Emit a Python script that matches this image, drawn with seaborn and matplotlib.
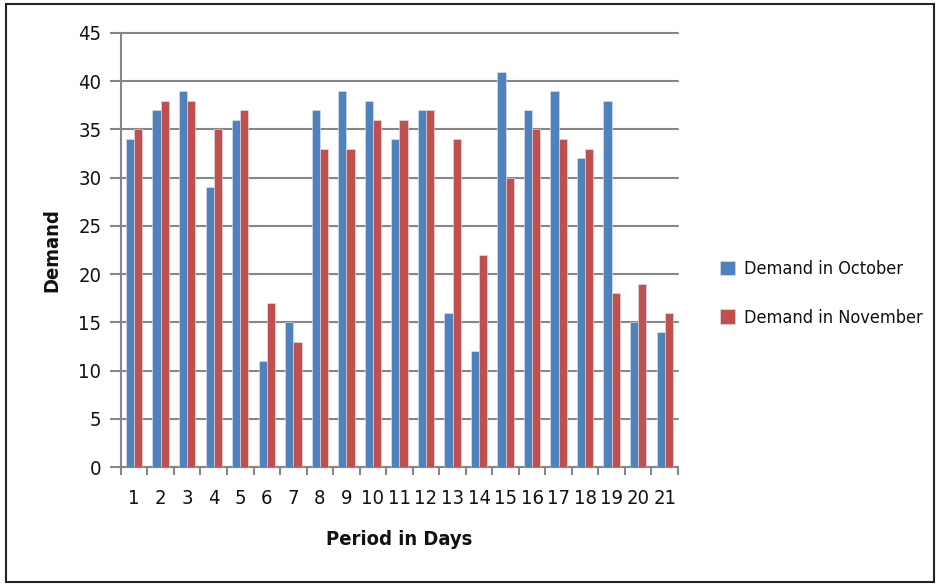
import matplotlib
matplotlib.use("Agg")
import matplotlib.pyplot as plt
import seaborn as sns
import pandas as pd
import numpy as np
from matplotlib.patches import Rectangle

days = [str(i) for i in range(1, 22)]
october = [34, 37, 39, 29, 36, 11, 15, 37, 39, 38, 34, 37, 16, 12, 41, 37, 39, 32, 38, 15, 14]
november = [35, 38, 38, 35, 37, 17, 13, 33, 33, 36, 36, 37, 34, 22, 30, 35, 34, 33, 18, 19, 16]
series_names = ["Demand in October", "Demand in November"]
colors = ["#4F81BD", "#C0504D"]

df = pd.DataFrame({
    "Day": days * 2,
    "Demand": october + november,
    "Series": [series_names[0]] * len(days) + [series_names[1]] * len(days),
})

sns.set_theme(style="white")
plt.rcParams['font.family'] = ['DejaVu Sans']
plt.rcParams['font.stretch'] = 'condensed'

fig = plt.figure(figsize=(9.37, 5.84), dpi=100)
ax = fig.add_axes([0.129, 0.2003, 0.5946, 0.7432])

sns.barplot(data=df, x="Day", y="Demand", hue="Series", palette=colors,
            saturation=1, width=0.62, ax=ax, edgecolor="#dfe6f0", linewidth=0.4,
            zorder=3, legend=True)

ax.set_ylim(0, 45)
ax.set_xlim(-0.5, 20.5)
ax.set_yticks(range(0, 46, 5))
ax.yaxis.grid(True, color="#868686", linewidth=1.5, zorder=0)
for gl in ax.get_ygridlines():
    gl.set_clip_on(False)
ax.set_axisbelow(True)
for s in ["top", "right"]:
    ax.spines[s].set_visible(False)
for s in ["left", "bottom"]:
    ax.spines[s].set_color("#868686")
    ax.spines[s].set_linewidth(1.5)

ax.tick_params(axis="y", which="major", length=8, width=1.5, color="#868686",
               labelsize=14.5, pad=6, left=True, labelcolor="#111111")
ax.tick_params(axis="x", which="major", length=0, labelsize=14.5, pad=16,
               labelcolor="#111111")
ax.set_xticks(np.arange(-0.5, 21, 1), minor=True)
ax.tick_params(axis="x", which="minor", length=6, width=1.5, color="#868686", bottom=True)

ax.set_xlabel("Period in Days", fontsize=14.5, fontweight="bold", labelpad=16,
              color="#111111")
ax.set_ylabel("Demand", fontsize=14.5, fontweight="bold", labelpad=12,
              color="#111111")

handles, labels = ax.get_legend_handles_labels()
ax.legend(handles, labels, loc="center left", bbox_to_anchor=(1.075, 0.40),
          frameon=False, fontsize=13, handlelength=0.85, handleheight=0.85,
          handletextpad=0.5, labelspacing=1.7, borderpad=0, borderaxespad=0,
          labelcolor="#111111")

fig.patches.append(Rectangle((0.006, 0.004), 0.991, 0.99, transform=fig.transFigure,
                             fill=False, edgecolor="#222222", linewidth=1.5))

fig.savefig("out.png", dpi=100)
